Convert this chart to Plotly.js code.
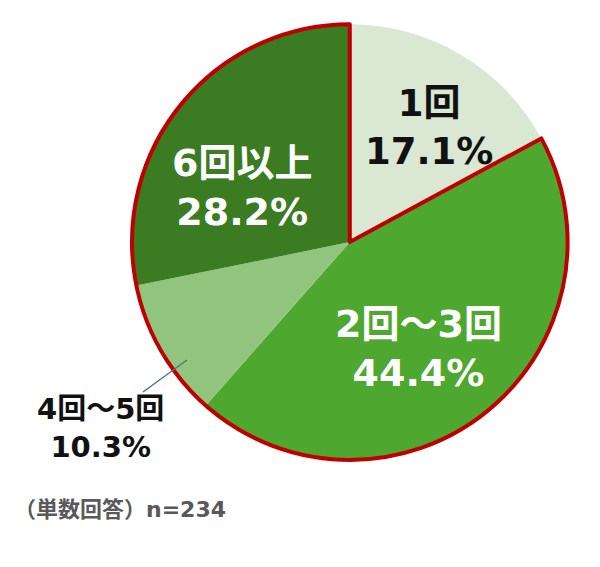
<!DOCTYPE html>
<html>
<head>
<meta charset="utf-8">
<script src="https://cdn.plot.ly/plotly-3.0.1.min.js"></script>
<style>
body{margin:0;background:#fff}
#chart{width:600px;height:567px}
</style>
</head>
<body>
<div id="chart"></div>
<script>
// 回数の割合（単数回答）n=234
let labels = ["1回","2回～3回","4回～5回","6回以上"]
let values = [17.1,44.4,10.3,28.2]
let colors = ["#dae8d3","#4ea72e","#91c57e","#3b7b22"]
let textColors = ["#111111","#ffffff","#111111","#ffffff"]
let note = "（単数回答）n=234"

let dom = {x:[0.22,0.946],y:[0.188,0.958]}
let fam = "DejaVu Sans, Noto Sans CJK JP"

// 2回以上の部分を赤で囲む
let rest = values.slice(1).reduce((a,b)=>a+b,0)

let pie = {
type:"pie",
labels:labels,
values:values,
sort:false,
direction:"clockwise",
rotation:0,
marker:{colors:colors,line:{width:0}},
textinfo:"none",
hoverinfo:"label+percent",
domain:dom
}

let outline = {
type:"pie",
labels:["a","b"],
values:[values[0],rest],
sort:false,
direction:"clockwise",
rotation:0,
marker:{colors:["rgba(0,0,0,0)","rgba(0,0,0,0)"],
line:{color:["rgba(0,0,0,0)","#c00000"],width:[0,4]}},
textinfo:"none",
hoverinfo:"skip",
showlegend:false,
domain:dom
}

let pos = [
{x:429,y:127,size:37},
{x:418,y:348,size:38},
{x:100,y:428,size:29},
{x:242,y:187,size:38}
]

let annotations = labels.map((l,i)=>({
xref:"paper",yref:"paper",
x:pos[i].x/600,y:1-pos[i].y/567,
xanchor:"center",yanchor:"middle",
text:l+"<br>"+values[i].toFixed(1)+"%",
showarrow:false,
font:{family:fam,size:pos[i].size,color:textColors[i],weight:700},
align:"center"
}))

annotations.push({
xref:"paper",yref:"paper",
x:12/600,y:1-509/567,xanchor:"left",yanchor:"middle",
text:note,
showarrow:false,
font:{family:fam,size:22,color:"#595959",weight:700}
})

Plotly.newPlot("chart",[pie,outline],{
width:600,
height:567,
margin:{l:0,r:0,t:0,b:0},
showlegend:false,
paper_bgcolor:"#ffffff",
annotations:annotations,
shapes:[{
type:"line",xref:"paper",yref:"paper",
x0:187/600,y0:1-360/567,x1:143/600,y1:1-392/567,
line:{color:"#5f6f7f",width:1.5}
}]
},{displayModeBar:false})
</script>
</body>
</html>
